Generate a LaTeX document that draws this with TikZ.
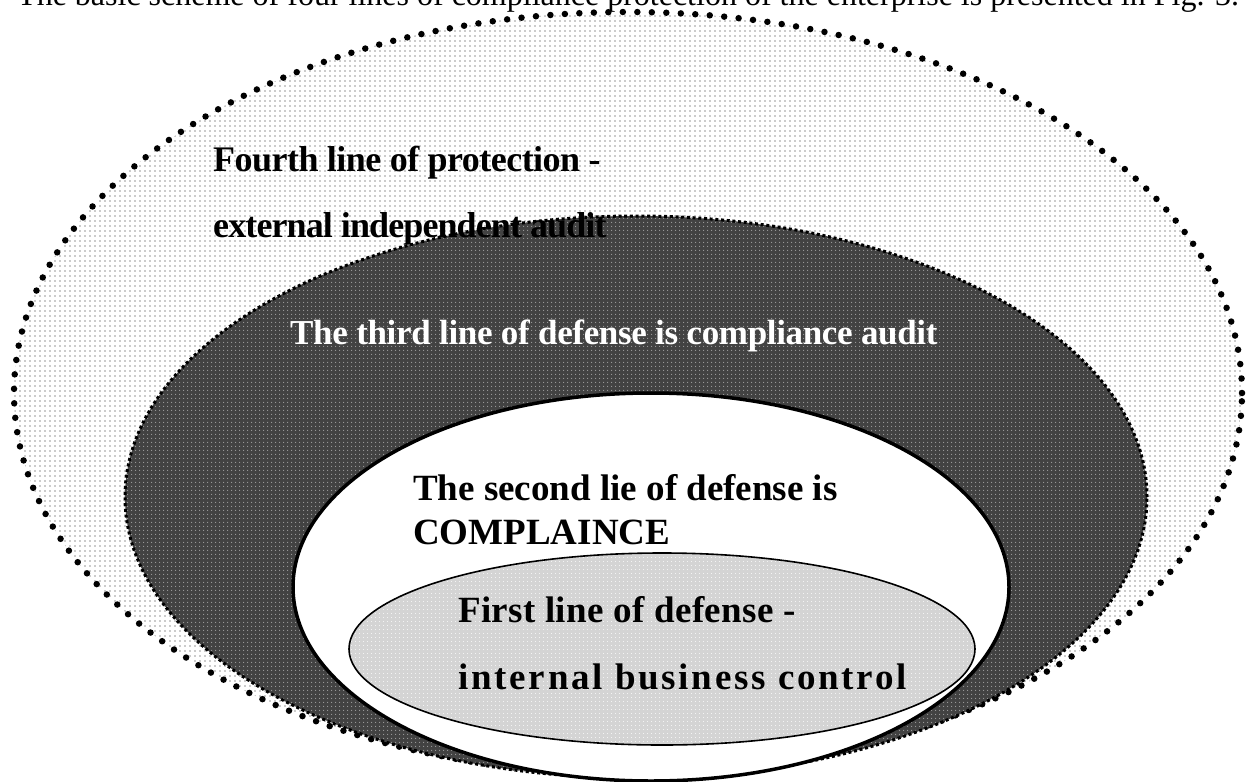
\documentclass[tikz,border=0pt]{standalone}
\usepackage{fontspec}
\setmainfont{Liberation Serif}
\usetikzlibrary{patterns.meta}
\definecolor{darkring}{RGB}{66,66,66}
\definecolor{lightring}{RGB}{212,212,212}
\tikzset{
  outerline/.style={line width=6.5pt, line cap=round, dash pattern=on 0pt off 14.5pt},
  thirdline/.style={line width=3pt, dash pattern=on 3pt off 2.7pt},
  secondline/.style={line width=3.5pt},
  firstline/.style={line width=1.6pt},
  label/.style={anchor=base west, inner sep=0pt, font=\bfseries\fontsize{36}{40}\selectfont},
}
\begin{document}
\begin{tikzpicture}[x=1pt,y=-1pt]
	\useasboundingbox (0,0) rectangle (1249,781);
	\clip (0,0) rectangle (1249,781);
	% title line, cut off at the top
	\node[anchor=base west, inner sep=0pt, font=\fontsize{32}{34}\selectfont] (title) at (17,6)
		{The basic scheme of four lines of compliance protection of the enterprise is presented in Fig. 3.};
	% fourth line
	\fill[white] (628,393) ellipse [x radius=614pt, y radius=381pt];
	\fill[pattern={Dots[distance=5pt, radius=0.8pt]}, pattern color=gray!80] (628,393) ellipse [x radius=614pt, y radius=381pt];
	\draw[outerline] (628,393) ellipse [x radius=614pt, y radius=381pt];
	% third line
	\fill[darkring] (636,497) ellipse [x radius=511pt, y radius=281pt];
	\fill[pattern={Dots[distance=4pt, radius=0.7pt]}, pattern color=gray!75] (636,497) ellipse [x radius=511pt, y radius=281pt];
	\draw[thirdline] (636,497) ellipse [x radius=511pt, y radius=281pt];
	% second line
	\draw[secondline, fill=white] (651,587) ellipse [x radius=358pt, y radius=194pt];
	% first line
	\fill[lightring] (662,649) ellipse [x radius=313pt, y radius=96pt];
	\fill[pattern={Dots[distance=4pt, radius=0.6pt]}, pattern color=white] (662,649) ellipse [x radius=313pt, y radius=96pt];
	\draw[firstline] (662,649) ellipse [x radius=313pt, y radius=96pt];
	% labels
	\node[label] (fourtha) at (213,171) {\addfontfeature{LetterSpace=-1.5}Fourth line of protection -};
	\node[label] (fourthb) at (213,237) {\addfontfeature{LetterSpace=-2.5}external independent audit};
	\node[label, text=white, font=\bfseries\fontsize{35}{40}\selectfont] (third) at (290,344) {\addfontfeature{LetterSpace=-1}The third line of defense is compliance audit};
	\node[label, font=\bfseries\fontsize{37}{40}\selectfont] (seconda) at (413,500) {The second lie of defense is};
	\node[label, font=\bfseries\fontsize{37}{40}\selectfont] (secondb) at (413,544) {COMPLAINCE};
	\node[label, font=\bfseries\fontsize{37}{40}\selectfont] (firsta) at (458,622) {\addfontfeature{LetterSpace=1}First line of defense -};
	\node[label, font=\bfseries\fontsize{37}{40}\selectfont] (firstb) at (458,689) {\addfontfeature{LetterSpace=7.5}internal business control};
\end{tikzpicture}
\end{document}
